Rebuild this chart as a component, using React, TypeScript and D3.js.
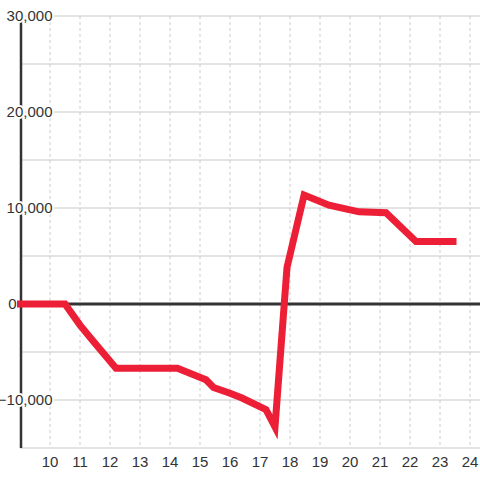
import React from "react";
import * as d3 from "d3";

const xValues = [8.9, 10.5, 11.0, 11.45, 12.2, 14.25, 15.2, 15.45, 16.0, 16.4, 17.2, 17.5, 17.9, 18.47, 19.3, 20.3, 21.2, 22.2, 23.55];
const yValues = [0, 0, -2200, -3900, -6700, -6700, -7900, -8700, -9300, -9800, -11000, -12800, 3800, 11350, 10300, 9600, 9500, 6500, 6500];
const yTickLabels = [30000, 20000, 10000, 0, -10000];
const yGridValues = [30000, 25000, 20000, 15000, 10000, 5000, -5000, -10000, -15000];
const xTickLabels = [10, 11, 12, 13, 14, 15, 16, 17, 18, 19, 20, 21, 22, 23, 24];

const W = 480;
const H = 480;

export default function App() {
  const x = d3.scaleLinear().domain([9, 24 + 1 / 3]).range([20, 480]);
  const y = d3.scaleLinear().domain([-15000, 30000]).range([448, 16]);
  const data = xValues.map((v, i) => [v, yValues[i]] as [number, number]);
  const line = d3
    .line<[number, number]>()
    .x((d) => x(d[0]))
    .y((d) => y(d[1]));
  const fmt = d3.format(",");
  const font = "'Liberation Sans', Arial, Helvetica, sans-serif";
  const labelX = (v: number) => (v === 0 ? 16.5 : 52.5);

  return (
    <svg
      width={W}
      height={H}
      style={{ position: "absolute", left: 0, top: 0, background: "#fff" }}
    >
      {xTickLabels.map((t) => (
        <line
          key={"vx" + t}
          x1={x(t)}
          x2={x(t)}
          y1={y(30000)}
          y2={y(-15000)}
          stroke="#cccccc"
          strokeWidth={1}
          strokeDasharray="3,3"
        />
      ))}
      {yGridValues.map((v) => (
        <line
          key={"hy" + v}
          x1={20}
          x2={480}
          y1={y(v)}
          y2={y(v)}
          stroke="#c8c8c8"
          strokeWidth={1}
        />
      ))}
      <line x1={20} x2={480} y1={y(0)} y2={y(0)} stroke="#333" strokeWidth={3} />
      <line x1={21} x2={21} y1={y(30000)} y2={y(-15000)} stroke="#333" strokeWidth={2.5} />
      {yTickLabels.filter((v) => v !== 0).map((v) => (
        <text
          key={"yh" + v}
          x={labelX(v)}
          y={y(v)}
          dy="0.35em"
          textAnchor="end"
          fontFamily={font}
          fontSize={15}
          fill="#fff"
          stroke="#fff"
          strokeWidth={4}
          strokeLinejoin="round"
        >
          {fmt(v)}
        </text>
      ))}
      <path
        d={line(data) || ""}
        fill="none"
        stroke="#ed1f36"
        strokeWidth={7}
        strokeLinejoin="miter"
        strokeLinecap="butt"
      />
      {yTickLabels.map((v) => (
        <text
          key={"yl" + v}
          x={labelX(v)}
          y={y(v)}
          dy="0.35em"
          textAnchor="end"
          fontFamily={font}
          fontSize={15}
          fill="#333"
        >
          {fmt(v)}
        </text>
      ))}
      {xTickLabels.map((t) => (
        <text
          key={"xl" + t}
          x={x(t)}
          y={467}
          textAnchor="middle"
          fontFamily={font}
          fontSize={15}
          fill="#333"
        >
          {t}
        </text>
      ))}
    </svg>
  );
}
